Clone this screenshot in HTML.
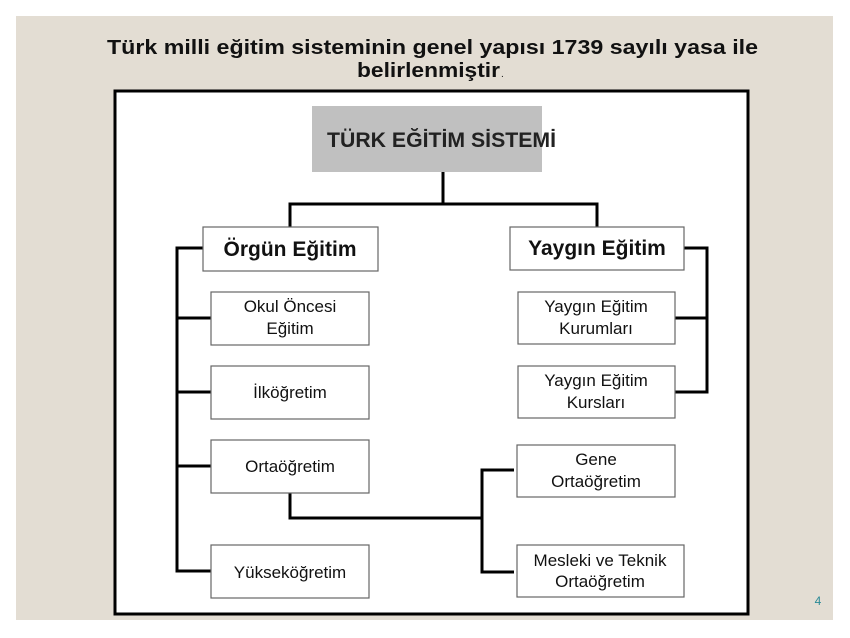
<!DOCTYPE html>
<html><head><meta charset="utf-8"><style>
html,body{margin:0;padding:0;background:#fff;}
svg{display:block}
</style></head><body>
<svg width="850" height="638" viewBox="0 0 850 638" xmlns="http://www.w3.org/2000/svg" font-family="Liberation Sans, Arial, sans-serif">
<rect x="16" y="16" width="817" height="604" fill="#e3ddd3"/>
<text x="107" y="54" font-size="20" font-weight="bold" fill="#111" textLength="651" lengthAdjust="spacingAndGlyphs">Türk milli eğitim sisteminin genel yapısı 1739 sayılı yasa ile</text>
<text x="357" y="77" font-size="20" font-weight="bold" fill="#111" textLength="143" lengthAdjust="spacingAndGlyphs">belirlenmiştir</text>
<text x="501" y="77" font-size="10" fill="#111">.</text>
<rect x="115" y="91" width="633" height="523" fill="#fff" stroke="#000" stroke-width="3"/>
<rect x="312" y="106" width="230" height="66" fill="#c0c0c0"/>
<text x="327" y="147" font-size="21" font-weight="bold" fill="#222" textLength="229" lengthAdjust="spacingAndGlyphs">TÜRK EĞİTİM SİSTEMİ</text>
<g stroke="#000" stroke-width="3" fill="none">
<polyline points="443,172 443,204"/>
<polyline points="290,227 290,204 597,204 597,227"/>
<polyline points="203,248 177,248 177,571 211,571"/>
<line x1="177" y1="318" x2="211" y2="318"/>
<line x1="177" y1="392" x2="211" y2="392"/>
<line x1="177" y1="466" x2="211" y2="466"/>
<polyline points="684,248 707,248 707,392 675,392"/>
<line x1="675" y1="318" x2="707" y2="318"/>
<polyline points="290,493 290,518 482,518"/>
<polyline points="514,470 482,470 482,572 514,572"/>
</g>
<g fill="#fff" stroke="#666" stroke-width="1.2">
<rect x="203" y="227" width="175" height="44"/>
<rect x="510" y="227" width="174" height="43"/>
<rect x="211" y="292" width="158" height="53"/>
<rect x="211" y="366" width="158" height="53"/>
<rect x="211" y="440" width="158" height="53"/>
<rect x="211" y="545" width="158" height="53"/>
<rect x="518" y="292" width="157" height="52"/>
<rect x="518" y="366" width="157" height="52"/>
<rect x="517" y="445" width="158" height="52"/>
<rect x="517" y="545" width="167" height="52"/>
</g>
<g text-anchor="middle" fill="#111">
<text x="290" y="256" font-size="21" font-weight="bold">Örgün Eğitim</text>
<text x="597" y="255" font-size="21" font-weight="bold">Yaygın Eğitim</text>
<g font-size="17">
<text x="290" y="312">Okul Öncesi</text><text x="290" y="334">Eğitim</text>
<text x="290" y="398">İlköğretim</text>
<text x="290" y="472">Ortaöğretim</text>
<text x="290" y="578">Yükseköğretim</text>
<text x="596" y="312">Yaygın Eğitim</text><text x="596" y="334">Kurumları</text>
<text x="596" y="386">Yaygın Eğitim</text><text x="596" y="408">Kursları</text>
<text x="596" y="465">Gene</text><text x="596" y="487">Ortaöğretim</text>
<text x="600" y="566">Mesleki ve Teknik</text><text x="600" y="587">Ortaöğretim</text>
</g>
</g>
<text x="818" y="605" text-anchor="middle" font-size="12" fill="#2a8a96">4</text>
</svg>
</body></html>
